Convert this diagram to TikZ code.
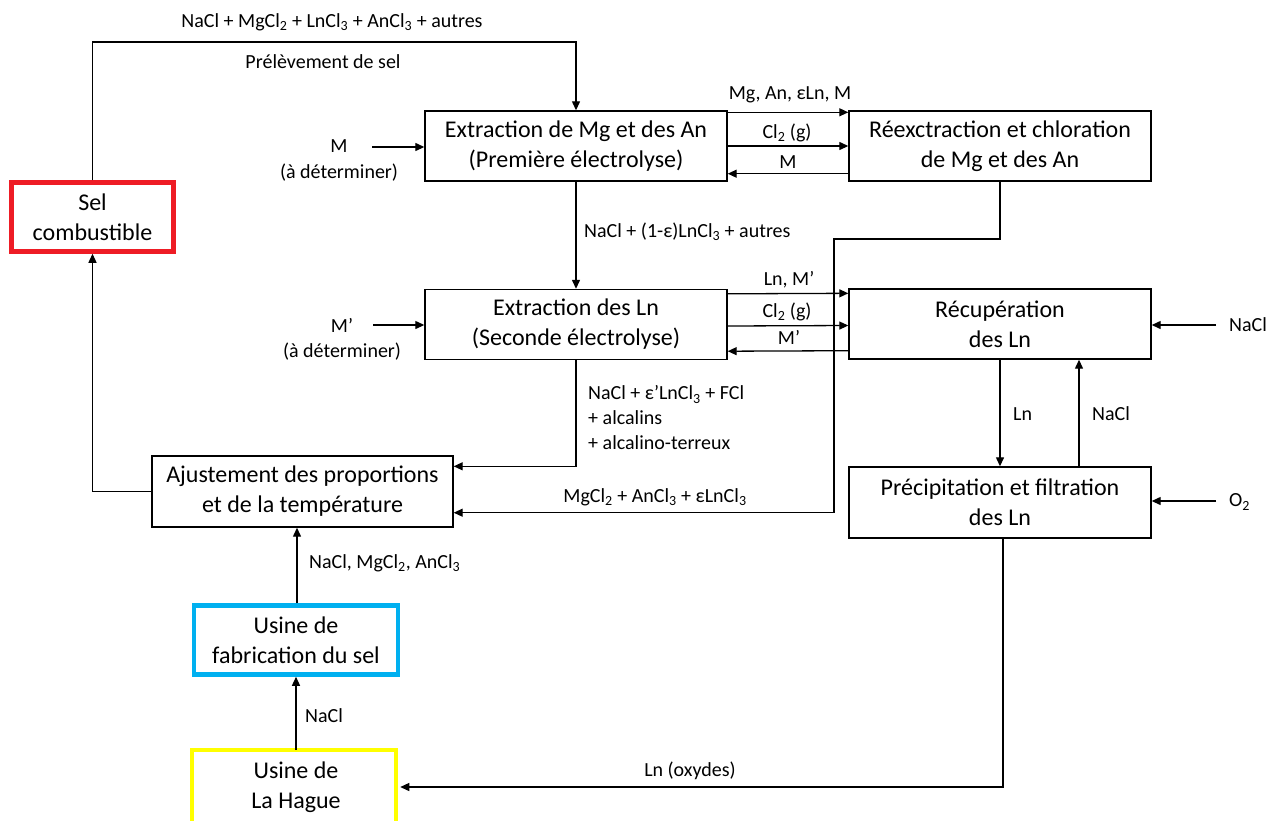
\documentclass[tikz,border=0pt]{standalone}
\usepackage{fontspec}
\setmainfont{Carlito}
\usetikzlibrary{arrows.meta,calc}
\newcommand{\mysub}[1]{\textsubscript{#1}}
\definecolor{myred}{HTML}{EE1C25}
\definecolor{myblue}{HTML}{00B0F0}
\definecolor{myyellow}{HTML}{FFFF00}
\begin{document}
\begin{tikzpicture}[x=1pt,y=-1pt,
  boxst/.style={draw,line width=1.4pt,minimum width=302pt,minimum height=70pt,align=center,font=\fontsize{24}{30}\selectfont,inner sep=0pt},
  cbox/.style={draw,line width=4.5pt,minimum width=162pt,minimum height=69pt,align=center,font=\fontsize{24}{30}\selectfont,inner sep=0pt},
  lab/.style={font=\fontsize{20}{25}\selectfont,inner sep=0pt},
  arr/.style={-{Triangle[length=9pt,width=8pt]},line width=1.3pt},
  ln/.style={line width=1.3pt}]
\useasboundingbox (0,0) rectangle (1266,820);
\fill[white] (0,0) rectangle (1266,820);

% boxes
\node[boxst] (E1) at (576,146) {Extraction de Mg et des An\\(Première électrolyse)};
\node[boxst] (R) at (1000,146) {Réexctraction et chloration\\de Mg et des An};
\node[boxst] (E2) at (576,324.5) {Extraction des Ln\\(Seconde électrolyse)};
\node[boxst] (Rc) at (1000,324) {Récupération\\des Ln};
\node[boxst,minimum width=301pt,minimum height=71pt] (A) at (302.5,491.5) {Ajustement des proportions\\et de la température};
\node[boxst,minimum height=71pt] (P) at (1000,502.5) {Précipitation et filtration\\des Ln};
\node[cbox,draw=myred] (Sel) at (92.5,217) {Sel\\combustible};
\node[cbox,draw=myblue,minimum width=204pt] (Us) at (296,640) {Usine de\\fabrication du sel};
\node[cbox,draw=none,minimum width=204pt,minimum height=70pt] (Yel) at (296,787) {Usine de\\La Hague};
\draw[myyellow,line width=4.5pt] (Yel.north west) rectangle ++(204,90);

% top loop
\coordinate (tL) at (92.5,42);
\coordinate (tR) at (576,42);
\draw[arr] (Sel.north) -- (tL) -- (tR) -- (E1.north);
\node[lab] (l1) at (332,22) {NaCl + MgCl\mysub{2} + LnCl\mysub{3} + AnCl\mysub{3} + autres};
\node[lab] (l2) at (323,62) {Prélèvement de sel};

% M input
\coordinate (mIn) at (372,147);
\draw[arr] (mIn) -- (mIn -| E1.west);
\node[lab,align=center,font=\fontsize{20}{26}\selectfont] (lM) at (339,160) {M\\(à déterminer)};

% E1 <-> R
\draw[arr] ([yshift=-2pt]E1.north east) -- ([yshift=-2pt]R.north west);
\draw[arr] (E1.east) -- (R.west);
\draw[arr] ([yshift=8pt]R.south west) -- ([yshift=8pt]E1.south east);
\node[lab] (l3) at (790,95) {Mg, An, εLn, M};
\node[lab] (l4) at (787,133) {Cl\mysub{2} (g)};
\node[lab] (l5) at (788,162) {M};

% E1 -> E2
\draw[arr] (E1.south) -- (E2.north);
\node[lab,anchor=west] (l6) at (584,232) {NaCl + (1-ε)LnCl\mysub{3} + autres};

% M' input
\coordinate (mpIn) at (373,325);
\draw[arr] (mpIn) -- (mpIn -| E2.west);
\node[lab,align=center] (lMp) at (342,339.5) {M’\\(à déterminer)};

% E2 <-> Rc
\draw[arr] ([yshift=-5pt]E2.north east) -- ([yshift=-5pt]Rc.north west);
\draw[arr] ([yshift=-1.5pt]E2.east) -- ([yshift=-1.5pt]Rc.west);
\draw[arr] ([yshift=9pt]Rc.south west) -- ([yshift=9pt]E2.south east);
\node[lab] (l7) at (789,280) {Ln, M’};
\node[lab] (l8) at (787,312) {Cl\mysub{2} (g)};
\node[lab] (l9) at (789,337) {M’};

% R -> A
\coordinate (k1) at (834,239);
\draw[arr] (R.south) |- (k1) |- ([yshift=15pt]A.south east);
\node[lab] (l10) at (655,497) {MgCl\mysub{2} + AnCl\mysub{3} + εLnCl\mysub{3}};

% E2 -> A
\draw[arr] (E2.south) |- ([yshift=-11pt]A.north east);
\node[lab,anchor=west,align=left] (l11) at (588,418) {NaCl + ε’LnCl\mysub{3} + FCl\\+ alcalins\\+ alcalino-terreux};

% A -> Sel
\draw[arr] (A.west) -| (Sel.south);

% Usine -> A
\draw[arr] ([xshift=1pt]Us.north) -- ([xshift=1pt]Us.north |- A.south);
\node[lab,anchor=west] (l12) at (309,563) {NaCl, MgCl\mysub{2}, AnCl\mysub{3}};

% Hague -> Usine
\draw[arr] (Yel.north) -- (Us.south);
\node[lab,anchor=west] (l13) at (305,716) {NaCl};

% NaCl input Rc
\coordinate (nIn) at (1216,325);
\draw[arr] (nIn) -- (nIn -| Rc.east);
\node[lab,anchor=west] (l14) at (1229,325) {NaCl};

% Rc <-> P
\draw[arr] (Rc.south) -- (P.north);
\draw[arr] ([xshift=79pt]P.north) -- ([xshift=79pt]Rc.south);
\node[lab,anchor=west] (l15) at (1013,414) {Ln};
\node[lab,anchor=west] (l16) at (1092,414) {NaCl};

% O2 input
\coordinate (oIn) at (1216,501);
\draw[arr] (oIn) -- (oIn -| P.east);
\node[lab,anchor=west] (l17) at (1229,502) {O\mysub{2}};

% P -> Hague
\draw[arr] ([xshift=3pt]P.south) |- (Yel.east);
\node[lab] (l18) at (690,771) {Ln (oxydes)};
\end{tikzpicture}
\end{document}
